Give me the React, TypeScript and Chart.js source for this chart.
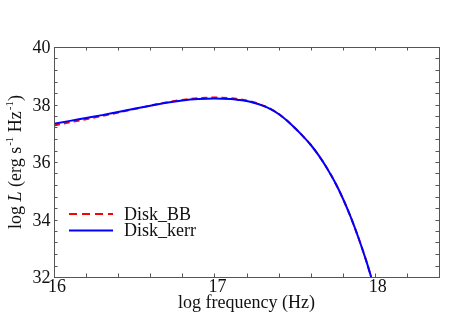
import React, { useEffect, useRef } from "react";
import { Chart, registerables } from "chart.js";

Chart.register(...registerables);

// log frequency (Hz)
const freqKerr = [16.0, 16.1, 16.2, 16.3, 16.4, 16.5, 16.6, 16.7, 16.8, 16.9, 17.0, 17.1, 17.15, 17.2, 17.25, 17.3, 17.35, 17.4, 17.45, 17.5, 17.55, 17.6, 17.65, 17.7, 17.75, 17.8, 17.85, 17.9, 17.95, 17.977];
const lumKerr = [37.33, 37.43, 37.53, 37.63, 37.74, 37.85, 37.96, 38.06, 38.14, 38.19, 38.21, 38.19, 38.16, 38.12, 38.05, 37.96, 37.84, 37.67, 37.45, 37.19, 36.91, 36.6, 36.23, 35.8, 35.31, 34.74, 34.08, 33.33, 32.5, 32.0];

const freqBB = [16.0, 16.1, 16.2, 16.3, 16.4, 16.5, 16.6, 16.7, 16.8, 16.9, 17.0, 17.1, 17.15, 17.2, 17.25, 17.3, 17.35, 17.4, 17.45, 17.5, 17.55, 17.6, 17.65, 17.7, 17.75, 17.8, 17.85, 17.9, 17.95, 17.977];
const lumBB = [37.27, 37.38, 37.49, 37.6, 37.72, 37.84, 37.96, 38.07, 38.16, 38.22, 38.24, 38.22, 38.19, 38.14, 38.07, 37.97, 37.85, 37.68, 37.45, 37.19, 36.91, 36.6, 36.23, 35.8, 35.31, 34.74, 34.08, 33.33, 32.5, 32.0];

const seriesNames = ["Disk_BB", "Disk_kerr"];
const xTickLabels = [16, 17, 18];
const yTickLabels = [32, 34, 36, 38, 40];
const xRange = [16, 18.4];
const yRange = [32, 40];
const xMinorStep = 0.2;
const yMinorStep = 0.4;

const FONT = '"Liberation Serif", "Times New Roman", serif';

const framePlugin = {
  id: "framePlugin",
  afterDraw(chart: any) {
    const { ctx, chartArea: a, scales } = chart;
    const x = scales.x;
    const y = scales.y;
    ctx.save();
    // frame
    ctx.strokeStyle = "#555";
    ctx.lineWidth = 1;
    ctx.strokeRect(Math.round(a.left) + 0.5, Math.round(a.top) + 0.5, Math.round(a.right - a.left), Math.round(a.bottom - a.top));
    // ticks
    const tl = 3.5;
    ctx.beginPath();
    const nx = Math.round((xRange[1] - xRange[0]) / xMinorStep);
    for (let i = 1; i < nx; i++) {
      const px = Math.round(x.getPixelForValue(xRange[0] + i * xMinorStep)) + 0.5;
      ctx.moveTo(px, a.bottom);
      ctx.lineTo(px, a.bottom - tl);
      ctx.moveTo(px, a.top);
      ctx.lineTo(px, a.top + tl);
    }
    const ny = Math.round((yRange[1] - yRange[0]) / yMinorStep);
    for (let i = 1; i < ny; i++) {
      const py = Math.round(y.getPixelForValue(yRange[0] + i * yMinorStep)) + 0.5;
      ctx.moveTo(a.left, py);
      ctx.lineTo(a.left + tl, py);
      ctx.moveTo(a.right, py);
      ctx.lineTo(a.right - tl, py);
    }
    ctx.stroke();

    // tick labels
    ctx.fillStyle = "#111";
    ctx.font = `18px ${FONT}`;
    ctx.textBaseline = "alphabetic";
    ctx.textAlign = "center";
    xTickLabels.forEach((v) => {
      ctx.fillText(String(v), x.getPixelForValue(v) + 3, a.bottom + 15);
    });
    ctx.textAlign = "right";
    yTickLabels.forEach((v) => {
      ctx.fillText(String(v), a.left - 3.5, y.getPixelForValue(v) + 6);
    });

    // x title
    ctx.textAlign = "center";
    ctx.fillText("log frequency (Hz)", (a.left + a.right) / 2, 308);

    // y title (rotated rich text)
    const segs = [
      { t: "log ", it: false, sup: false },
      { t: "L", it: true, sup: false },
      { t: " (erg s", it: false, sup: false },
      { t: "-1", it: false, sup: true },
      { t: " Hz", it: false, sup: false },
      { t: "-1", it: false, sup: true },
      { t: ")", it: false, sup: false },
    ];
    const fontFor = (s: any) => `${s.it ? "italic " : ""}${s.sup ? 11 : 18}px ${FONT}`;
    let total = 0;
    const widths = segs.map((s) => {
      ctx.font = fontFor(s);
      const w = ctx.measureText(s.t).width + (s.sup ? 1 : 0);
      total += w;
      return w;
    });
    ctx.save();
    ctx.translate(21, (a.top + a.bottom) / 2);
    ctx.rotate(-Math.PI / 2);
    ctx.textAlign = "left";
    let cx = -total / 2;
    segs.forEach((s, i) => {
      ctx.font = fontFor(s);
      ctx.fillText(s.t, cx + (s.sup ? 1 : 0), s.sup ? -8 : 0);
      cx += widths[i];
    });
    ctx.restore();

    // legend
    const leg = [
      { name: seriesNames[0], color: "#ff0000", dash: [8, 5], y: 214 },
      { name: seriesNames[1], color: "#0000ff", dash: [], y: 230.5 },
    ];
    leg.forEach((l) => {
      ctx.strokeStyle = l.color;
      ctx.lineWidth = 2;
      ctx.setLineDash(l.dash);
      ctx.beginPath();
      ctx.moveTo(69, l.y);
      ctx.lineTo(113, l.y);
      ctx.stroke();
      ctx.setLineDash([]);
      ctx.fillStyle = "#111";
      ctx.font = `18px ${FONT}`;
      ctx.textAlign = "left";
      ctx.fillText(l.name, 124, l.y + 5.5);
    });
    ctx.restore();
  },
};

export default function App() {
  const ref = useRef<HTMLCanvasElement>(null);
  useEffect(() => {
    if (!ref.current) return;
    const chart = new Chart(ref.current, {
      type: "scatter",
      data: {
        datasets: [
          {
            label: seriesNames[0],
            data: freqBB.map((f, i) => ({ x: f, y: lumBB[i] })),
            showLine: true,
            borderColor: "#ff0000",
            borderWidth: 2,
            borderDash: [6, 4],
            pointRadius: 0,
            cubicInterpolationMode: "monotone",
            order: 1,
          },
          {
            label: seriesNames[1],
            data: freqKerr.map((f, i) => ({ x: f, y: lumKerr[i] })),
            showLine: true,
            borderColor: "#0000ff",
            borderWidth: 2,
            pointRadius: 0,
            cubicInterpolationMode: "monotone",
            order: 0,
          },
        ],
      },
      options: {
        animation: false,
        responsive: false,
        maintainAspectRatio: false,
        layout: { padding: { left: 54, top: 47, right: 19, bottom: 47 } },
        plugins: { legend: { display: false }, tooltip: { enabled: false } },
        scales: {
          x: { type: "linear", min: xRange[0], max: xRange[1], display: false },
          y: { type: "linear", min: yRange[0], max: yRange[1], display: false },
        },
      },
      plugins: [framePlugin],
    } as any);
    return () => chart.destroy();
  }, []);
  return (
    <div style={{ position: "fixed", left: 0, top: 0, width: 458, height: 324, background: "#fff" }}>
      <canvas ref={ref} width={458} height={324} style={{ width: 458, height: 324 }} />
    </div>
  );
}
